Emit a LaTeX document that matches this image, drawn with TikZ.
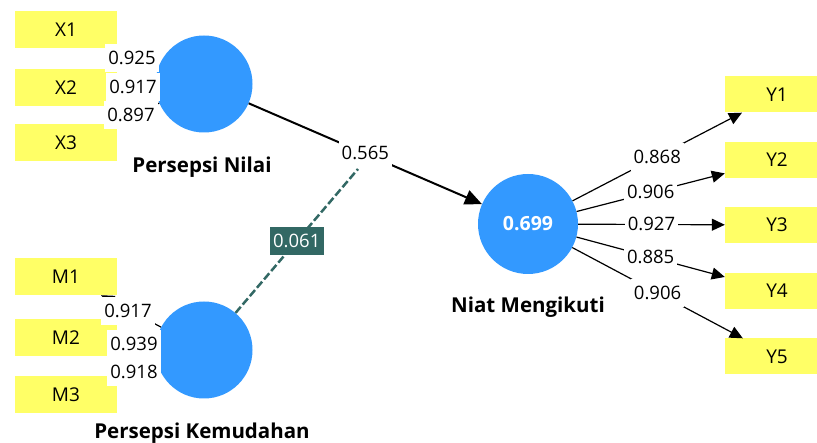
\documentclass[tikz,border=0pt]{standalone}
\usepackage{fontspec}
\setmainfont{Open Sans}
\usetikzlibrary{arrows.meta}
\definecolor{boxyellow}{RGB}{255,255,102}
\definecolor{lvblue}{RGB}{51,153,255}
\definecolor{modteal}{RGB}{50,104,100}
\begin{document}
\begin{tikzpicture}[x=1pt,y=-1pt,
 ind/.style={rectangle, fill=boxyellow, minimum width=102pt, minimum height=37pt, inner sep=0pt, font=\fontsize{19}{22}\selectfont},
 indr/.style={ind, minimum width=104pt, minimum height=36pt},
 lv/.style={circle, fill=lvblue, minimum size=97pt, inner sep=0pt},
 lvname/.style={font=\fontsize{20.5}{24}\selectfont\bfseries},
 lab/.style={fill=white, inner xsep=3pt, inner ysep=6.5pt, font=\fontsize{18.5}{22}\selectfont, text height=13.5pt, text depth=1pt},
 modlab/.style={lab, fill=modteal, text=white, inner ysep=6.5pt, inner xsep=3.5pt},
 load/.style={-{Triangle[length=13pt,width=12pt]}, line width=1.2pt},
 path/.style={-{Triangle[length=17pt,width=15pt]}, line width=2pt},
 modline/.style={draw=modteal, line width=2.5pt, dash pattern=on 8pt off 3pt},
]
\useasboundingbox (0,0) rectangle (817,443);
\clip (0,0) rectangle (817,443);
% indicators
\node[ind] (x1) at (66,29.5) {X1};
\node[ind] (x2) at (66,87.5) {X2};
\node[ind] (x3) at (66,143) {X3};
\node[ind] (m1) at (66,276.5) {M1};
\node[ind] (m2) at (66,337.5) {M2};
\node[ind] (m3) at (66,394.5) {M3};
\node[indr] (y1) at (777,94.5) {Y1};
\node[indr] (y2) at (777,160) {Y2};
\node[indr] (y3) at (777,225) {Y3};
\node[indr] (y4) at (777,291) {Y4};
\node[indr] (y5) at (777,356.5) {Y5};
% latent variables
\node[lv] (pn) at (204,84) {};
\node[lv] (pk) at (204,350) {};
\node[lv, minimum size=100pt, text=white, font=\fontsize{19.5}{23}\selectfont\bfseries] (nm) at (528,224) {0.699};
\node[lvname] (pnl) at (202,167) {Persepsi Nilai};
\node[lvname] (pkl) at (202,433) {Persepsi Kemudahan};
\node[lvname] (nml) at (528,307) {Niat Mengikuti};
% loadings (left)
\draw[load] (pn) -- (x1);
\draw[load] (pn) -- (x2);
\draw[load] (pn) -- (x3);
\draw[load] (pk) -- (m1);
\draw[load] (pk) -- (m2);
\draw[load] (pk) -- (m3);
\node[lab] (l1) at (132,58) {0.925};
\node[lab] (l2) at (133,87) {0.917};
\node[lab] (l3) at (131,115) {0.897};
\node[lab] (l4) at (128,311) {0.917};
\node[lab] (l5) at (134,344) {0.939};
\node[lab] (l6) at (134,372) {0.918};
% moderating path
\coordinate (modend) at (358,169);
\draw[modline] (pk) -- (modend) node[modlab, midway] (lm) {0.061};
% structural path
\draw[path] (pn) -- (nm) node[lab, midway] (lp) {0.565};
% loadings (right)
\draw[load] (nm) -- (y1) node[lab, midway] {0.868};
\draw[load] (nm) -- (y2) node[lab, midway] {0.906};
\draw[load] (nm) -- (y3) node[lab, midway] {0.927};
\draw[load] (nm) -- (y4) node[lab, midway] {0.885};
\draw[load] (nm) -- (y5) node[lab, midway] {0.906};
\end{tikzpicture}
\end{document}
